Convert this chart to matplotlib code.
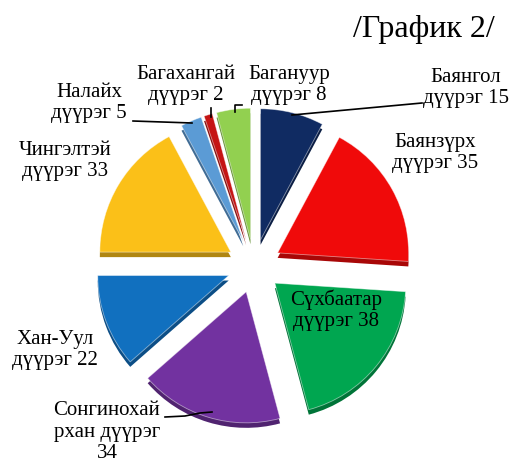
import matplotlib
matplotlib.use("Agg")
import matplotlib.pyplot as plt
import matplotlib.colors as mcolors

districts = ["Баянгол", "Баянзүрх", "Сүхбаатар", "Сонгинохайрхан", "Хан-Уул",
             "Чингэлтэй", "Налайх", "Багахангай", "Багануур"]
values = [15, 35, 38, 34, 22, 33, 5, 2, 8]
colors = ["#102B62", "#F00A0A", "#00A650", "#7232A0", "#1170BF",
          "#FBC018", "#5B9BD5", "#C51515", "#92D050"]
suffix = "дүүрэг"
title = "/График 2/"

# label text pieces (as drawn in the picture, with line breaks)
label_lines = [
    ["Баянгол", f"{suffix} 15"],
    ["Баянзүрх", f"{suffix} 35"],
    ["Сүхбаатар", f"{suffix} 38"],
    ["Сонгинохай", f"рхан {suffix}", "34"],
    ["Хан-Уул", f"{suffix} 22"],
    ["Чингэлтэй", f"{suffix} 33"],
    ["Налайх", f"{suffix} 5"],
    ["Багахангай", f"{suffix} 2"],
    ["Багануур", f"{suffix} 8"],
]

W, H = 514, 465
fig = plt.figure(figsize=(W / 100, H / 100), dpi=100)
ax = fig.add_axes([0, 0, 1, 1])

cx, cy, r = 254, H - 266, 131
explode = [27] * len(values)

def darker(c, f=0.7):
    rgb = mcolors.to_rgb(c)
    return tuple(v * f for v in rgb)

# 3D side / shadow
ax.pie(values, colors=[darker(c) for c in colors], startangle=90, counterclock=False,
       explode=explode, radius=r, center=(cx, cy - 5), frame=True,
       wedgeprops=dict(linewidth=0))
ax.pie(values, colors=colors, startangle=90, counterclock=False,
       explode=explode, radius=r, center=(cx, cy), frame=True,
       wedgeprops=dict(linewidth=0.6, edgecolor=(1, 1, 1, 0.5)))
ax.set_xlim(0, W)
ax.set_ylim(0, H)
ax.set_aspect("equal")
ax.axis("off")

font = dict(family="Liberation Serif", fontsize=15, color="black")

# label positions in pixels (x, y of text center)
pos = [
    (466, 88),
    (435, 153),
    (336, 310),
    (107, 432),
    (55, 350),
    (65, 161),
    (89, 103),
    (186, 85),
    (289, 85),
]
for lines, (x, y) in zip(label_lines, pos):
    ax.text(x, H - y, "\n".join(lines), ha="center", va="center", linespacing=1.17, **font)

# leader lines (pixel coords)
leaders = [
    [(422, 103), (292, 115)],
    [(165, 417), (185, 416), (200, 413), (212, 412)],
    [(133, 121), (192, 123)],
    [(211, 108), (211, 117)],
    [(242, 105), (235, 105), (235, 112)],
]
for pts in leaders:
    xs = [p[0] for p in pts]
    ys = [H - p[1] for p in pts]
    ax.plot(xs, ys, color="black", lw=1.2)

fig.text(495 / W, 1 - 29 / H, title, ha="right", va="center",
         family="Liberation Serif", fontsize=23)

fig.savefig("out.png", dpi=100)
